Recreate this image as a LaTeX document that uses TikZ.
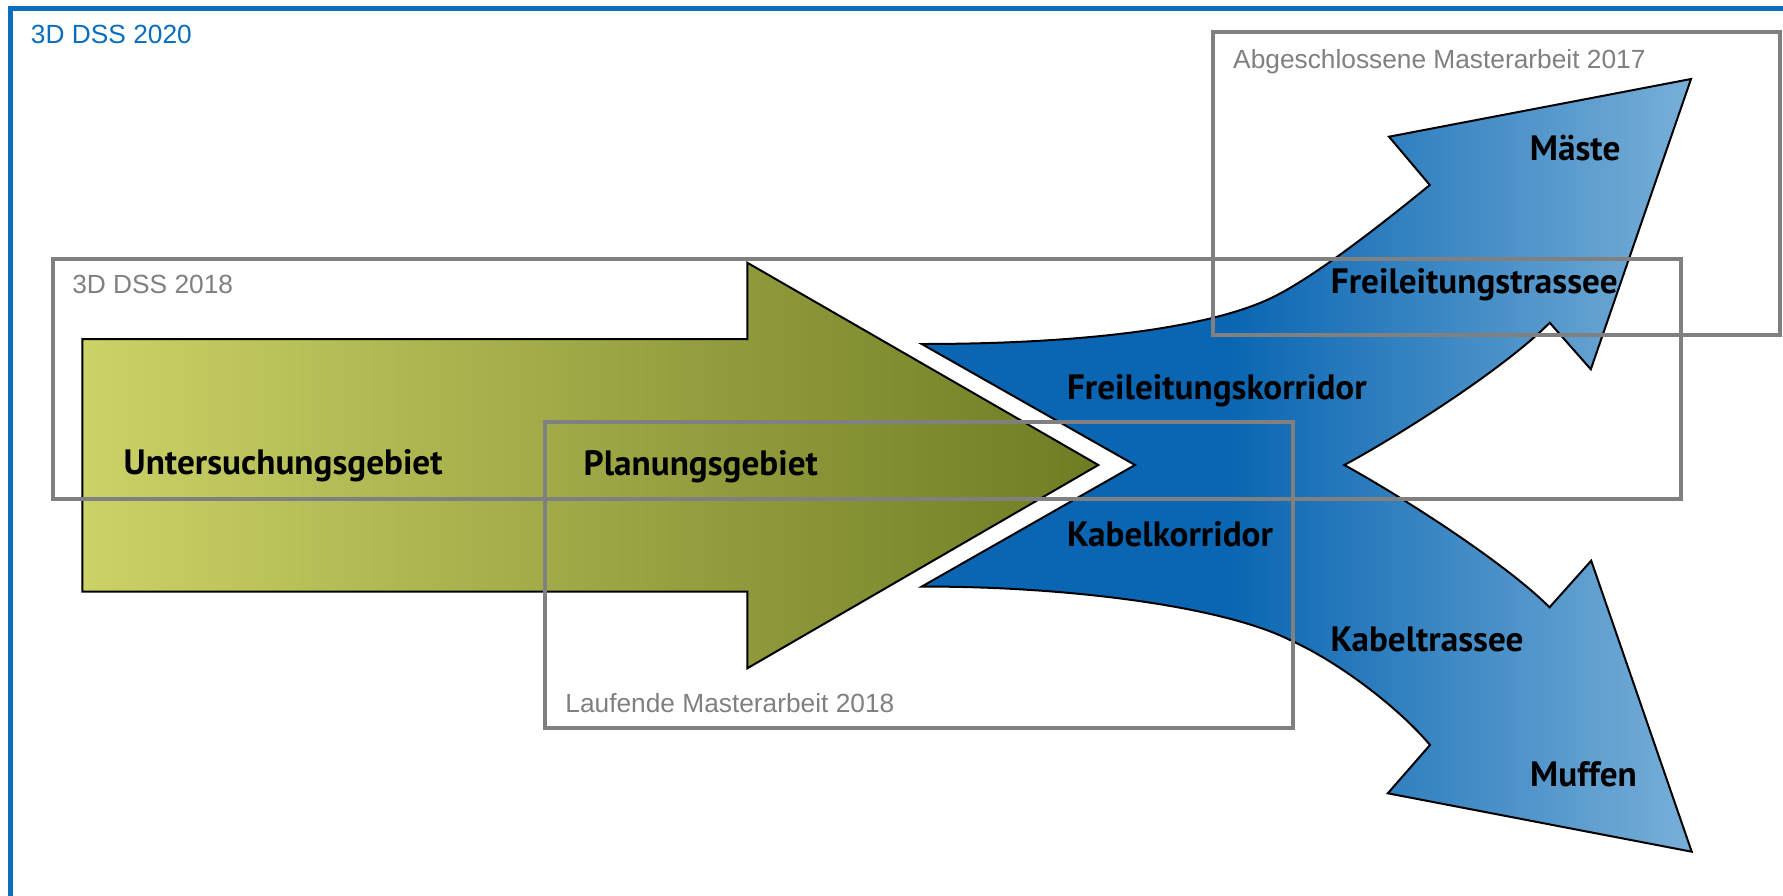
\documentclass[tikz,border=0pt]{standalone}
\usepackage{fontspec}
\setmainfont{Liberation Sans}
\newfontfamily\labfont{PT Sans}
\definecolor{frameblue}{RGB}{10,110,189}
\definecolor{boxgray}{RGB}{128,128,128}
\definecolor{gleft}{RGB}{203,210,102}
\definecolor{gright}{RGB}{112,124,36}
\definecolor{bdark}{RGB}{10,102,178}
\definecolor{blight}{RGB}{120,175,216}
\pgfdeclarehorizontalshading{blueshade}{100bp}{color(0bp)=(bdark); color(45bp)=(bdark); color(75bp)=(blight); color(100bp)=(blight)}
\tikzset{
  graybox/.style={draw=boxgray, line width=2pt},
  graylabel/.style={text=boxgray, font=\fontsize{13.15pt}{15pt}\selectfont, inner sep=0pt, anchor=base west},
  biglabel/.style={font=\labfont\bfseries\fontsize{17.6pt}{20pt}\selectfont, inner sep=0pt, anchor=base west},
  outline/.style={draw=black, line width=1pt, line join=miter}
}
\begin{document}
\begin{tikzpicture}[x=0.5pt,y=-0.5pt]
\useasboundingbox (0,0) rectangle (1783,895);
\clip (0,0) rectangle (1783,895);
\fill[white] (0,0) rectangle (1783,895);
% outer frame
\draw[frameblue, line width=2.35pt] (10.8,8.3) rectangle (1820,930);
\node[graylabel, text=frameblue] (t2020) at (30.6,43.3) {3D DSS 2020};
% green arrow
\path[outline, left color=gleft, right color=gright]
  (82.3,339) -- (747.3,339) -- (747.3,262.7) -- (1098.3,465) -- (747.3,668.3)
  -- (747.3,591.7) -- (82.3,591.7) -- cycle;
% blue forked arrow
\path[outline, shade, shading=blueshade]
  (921.7,344)
  .. controls (1060,344) and (1195,332) .. (1267,300)
  .. controls (1312,280) and (1390,217.5) .. (1429.8,185)
  -- (1389,136.7) -- (1691,79) -- (1590.8,369.3) -- (1549.7,322.7)
  .. controls (1505,368) and (1400,435) .. (1344.3,465)
  .. controls (1400,495.6) and (1505,562.6) .. (1549.5,607.3)
  -- (1591.2,560.7) -- (1691.7,851.7) -- (1387.8,793.3) -- (1430,745)
  .. controls (1400,709) and (1340,662.5) .. (1290,640)
  .. controls (1220,605) and (1060,586) .. (921.7,586.6)
  -- (1135,465) -- cycle;
% gray boxes
\draw[graybox] (53.4,258.8) rectangle (1680.5,498.5);
\draw[graybox] (1213,32.3) rectangle (1780,335);
\draw[graybox] (544.5,421.7) rectangle (1292.7,727.8);
\node[graylabel] (t2018) at (71.9,293.3) {3D DSS 2018};
\node[graylabel] (t2017) at (1232.8,68.3) {Abgeschlossene Masterarbeit 2017};
\node[graylabel] (tlauf) at (565,712.3) {Laufende Masterarbeit 2018};
% labels
\node[biglabel] (unt) at (123.3,474) {Untersuchungsgebiet};
\node[biglabel] (plan) at (583.3,475) {Planungsgebiet};
\node[biglabel] (fk) at (1066.7,399.3) {Freileitungskorridor};
\node[biglabel] (kk) at (1066.7,546) {Kabelkorridor};
\node[biglabel] (ft) at (1330.5,293.3) {Freileitungstrassee};
\node[biglabel] (ma) at (1529.5,160.7) {Mäste};
\node[biglabel] (kt) at (1330.1,651.7) {Kabeltrassee};
\node[biglabel] (mu) at (1529.8,786.7) {Muffen};
\end{tikzpicture}
\end{document}
